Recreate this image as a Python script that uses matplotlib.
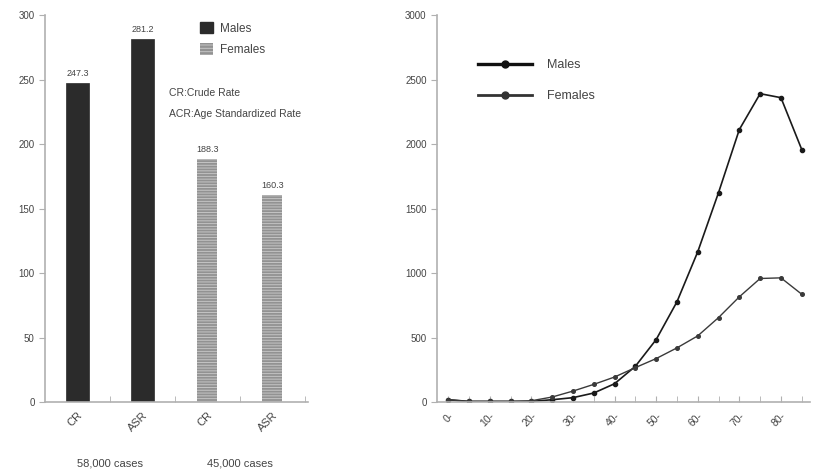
import numpy as np
import matplotlib
matplotlib.use('Agg')
import matplotlib.pyplot as plt
from matplotlib.lines import Line2D
from matplotlib.patches import Patch

plt.rcParams['font.family'] = ['Liberation Sans', 'DejaVu Sans']
plt.rcParams['hatch.linewidth'] = 0.7

# ---- data: rates ----
bar_labels = ['CR', 'ASR', 'CR', 'ASR']
bar_values = [247.3, 281.2, 188.3, 160.3]
bar_sex = ['Males', 'Males', 'Females', 'Females']
case_labels = ['58,000 cases', '45,000 cases']

# ---- data: age-specific numbers ----
age_groups = ['0-', '5-', '10-', '15-', '20-', '25-', '30-', '35-', '40-',
              '45-', '50-', '55-', '60-', '65-', '70-', '75-', '80-', '85+']
males = [18, 5, 5, 5, 5, 18, 34, 70, 142, 277, 484, 777, 1165, 1624,
         2113, 2391, 2360, 1958]
females = [18, 5, 5, 5, 10, 39, 85, 137, 194, 267, 337, 420, 513, 655,
           816, 958, 963, 836]
age_tick_labels = ['0-', '10-', '20-', '30-', '40-', '50-', '60-', '70-', '80-']

male_col = '#2b2b2b'
female_col = '#929292'
hatch_col = '#c4c4c4'
axis_col = '#b0b0b0'
text_col = '#444444'

fig = plt.figure(figsize=(8.17, 4.73), dpi=100)

# ============================================================
# Left panel: bars
# ============================================================
ax1 = fig.add_axes([0.055, 0.150, 0.322, 0.818])
x = np.arange(len(bar_values))
for xi, v, s in zip(x, bar_values, bar_sex):
    if s == 'Males':
        ax1.bar(xi, v, width=0.35, color=male_col, edgecolor=male_col, linewidth=0.5)
    else:
        ax1.bar(xi, v, width=0.31, color=female_col, edgecolor=hatch_col,
                hatch='------', linewidth=0)
    ax1.text(xi, v + 4, f'{v:.1f}', ha='center', va='bottom', fontsize=6.5,
             color=text_col)

ax1.set_xlim(-0.5, 3.55)
ax1.set_ylim(0, 300)
ax1.set_yticks(np.arange(0, 301, 50))
ax1.set_xticks(x)
ax1.set_xticklabels(bar_labels, rotation=45, ha='right', rotation_mode='anchor',
                    fontsize=8, color=text_col)
ax1.set_xticks(np.arange(0.5, 4, 1), minor=True)
ax1.tick_params(axis='x', which='major', length=0, pad=6)
ax1.tick_params(axis='x', which='minor', direction='in', length=4, color=axis_col)
ax1.tick_params(axis='y', length=4, color=axis_col, labelsize=7, labelcolor=text_col)
for sp in ['top', 'right']:
    ax1.spines[sp].set_visible(False)
for sp in ['left', 'bottom']:
    ax1.spines[sp].set_color(axis_col)
    ax1.spines[sp].set_linewidth(1.2)

for i, lab in enumerate(case_labels):
    ax1.text(0.5 + 2 * i, -0.16, lab, transform=ax1.get_xaxis_transform(),
             ha='center', va='center', fontsize=8, color=text_col)

handles = [Patch(facecolor=male_col, edgecolor=male_col),
           Patch(facecolor=female_col, edgecolor=hatch_col, hatch='-----', linewidth=0)]
ax1.legend(handles, ['Males', 'Females'], loc='upper left',
           bbox_to_anchor=(0.55, 1.01), frameon=False, fontsize=8.5,
           handlelength=1.1, handleheight=1.1, labelspacing=0.75,
           handletextpad=0.6, labelcolor=text_col)
ax1.text(0.47, 0.80, 'CR:Crude Rate', transform=ax1.transAxes, fontsize=7.5,
         color=text_col, va='center')
ax1.text(0.47, 0.745, 'ACR:Age Standardized Rate', transform=ax1.transAxes,
         fontsize=7.5, color=text_col, va='center')

# ============================================================
# Right panel: age-specific lines
# ============================================================
ax2 = fig.add_axes([0.535, 0.150, 0.456, 0.818])
xa = np.arange(len(age_groups))
ax2.plot(xa, males, color='#1a1a1a', linewidth=1.2, marker='o', markersize=3,
         label='Males')
ax2.plot(xa, females, color='#3a3a3a', linewidth=1.0, marker='o', markersize=2.6,
         label='Females')
ax2.set_xlim(-0.53, 17.38)
ax2.set_ylim(0, 3000)
ax2.set_yticks(np.arange(0, 3001, 500))
ax2.set_xticks(np.arange(0, 17, 2))
ax2.set_xticklabels(age_tick_labels, rotation=45, ha='right',
                    rotation_mode='anchor', fontsize=7.5, color=text_col)
ax2.set_xticks(xa, minor=True)
ax2.tick_params(axis='x', which='both', direction='in', length=4, color=axis_col,
                pad=6)
ax2.tick_params(axis='y', length=4, color=axis_col, labelsize=7, labelcolor=text_col)
for sp in ['top', 'right']:
    ax2.spines[sp].set_visible(False)
for sp in ['left', 'bottom']:
    ax2.spines[sp].set_color(axis_col)
    ax2.spines[sp].set_linewidth(1.2)

leg_handles = [Line2D([], [], color='#111111', linewidth=2.4, marker='o', markersize=5),
               Line2D([], [], color='#333333', linewidth=2.0, marker='o', markersize=5)]
ax2.legend(leg_handles, ['Males', 'Females'], loc='upper left',
           bbox_to_anchor=(0.08, 0.915), frameon=False, fontsize=9,
           handlelength=4.3, labelspacing=1.5, handletextpad=1.2,
           labelcolor=text_col)

plt.savefig('out.png', dpi=100)
